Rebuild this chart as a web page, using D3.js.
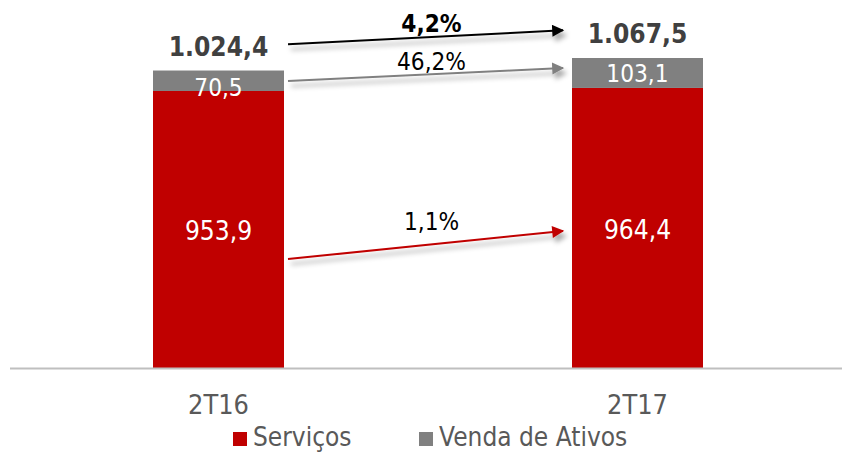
<!DOCTYPE html>
<html>
<head>
<meta charset="utf-8">
<script src="https://cdn.jsdelivr.net/npm/d3@7"></script>
<style>
  html, body { margin: 0; padding: 0; background: #fff; }
  svg { display: block; font-family: "DejaVu Sans", Verdana, sans-serif; }
</style>
</head>
<body>
<div id="chart"></div>
<script>
const categories = ["2T16", "2T17"];
const servicos = [953.9, 964.4];
const vendaAtivos = [70.5, 103.1];
const servicosLabels = ["953,9", "964,4"];
const vendaLabels = ["70,5", "103,1"];
const totalLabels = ["1.024,4", "1.067,5"];
const seriesNames = ["Serviços", "Venda de Ativos"];

// growth arrows: anchor heights in data units at each end
const arrowLabels = ["4,2%", "46,2%", "1,1%"];
const arrowStart = [1115, 988, 375];
const arrowEnd = [1163, 1033, 472];

const width = 842, height = 452;
const baseY = 368;
const barW = 131;
const sx = 0.87; // narrow the font a bit

const colors = { red: "#C00000", gray: "#808080" };

const svg = d3.select("#chart").append("svg")
    .attr("width", width)
    .attr("height", height);

const defs = svg.append("defs");
const f = defs.append("filter").attr("id", "shadow")
    .attr("x", "-10%").attr("y", "-100%").attr("width", "120%").attr("height", "300%");
f.append("feDropShadow")
    .attr("dx", 3).attr("dy", 5).attr("stdDeviation", 2.5)
    .attr("flood-color", "#000").attr("flood-opacity", 0.35);

[["black", "#000"], ["gray", "#808080"], ["red", "#C00000"]].forEach(([id, c]) => {
  defs.append("marker")
      .attr("id", "head-" + id)
      .attr("viewBox", "0 0 10 10")
      .attr("refX", 9).attr("refY", 5)
      .attr("markerWidth", 7.5).attr("markerHeight", 6)
      .attr("markerUnits", "strokeWidth")
      .attr("orient", "auto")
    .append("path")
      .attr("d", "M0,0 L10,5 L0,10 Z")
      .attr("fill", c);
});

const x = d3.scalePoint()
    .domain(categories)
    .range([218.5, 637.5]);

const y = d3.scaleLinear()
    .domain([0, 1000])
    .range([baseY, baseY - 290.4]);

const rows = categories.map((c, i) => ({
  cat: c,
  s: servicos[i],
  v: vendaAtivos[i],
  total: servicos[i] + vendaAtivos[i],
  sLabel: servicosLabels[i],
  vLabel: vendaLabels[i],
  tLabel: totalLabels[i]
}));

function label(g, px, py, txt, size, fill, weight, scale) {
  g.append("text")
      .attr("transform", `translate(${px},${py}) scale(${scale || sx},1)`)
      .attr("text-anchor", "middle")
      .attr("font-size", size)
      .attr("font-weight", weight || "normal")
      .attr("fill", fill)
      .text(txt);
}

// bars
const bars = svg.append("g");
bars.selectAll(".serv").data(rows).join("rect")
    .attr("x", d => x(d.cat) - barW / 2)
    .attr("y", d => y(d.s))
    .attr("width", barW)
    .attr("height", d => y(0) - y(d.s))
    .attr("fill", colors.red);

bars.selectAll(".venda").data(rows).join("rect")
    .attr("x", d => x(d.cat) - barW / 2)
    .attr("y", d => y(d.total))
    .attr("width", barW)
    .attr("height", d => y(d.s) - y(d.total))
    .attr("fill", colors.gray);

// axis line
svg.append("line")
    .attr("x1", 10).attr("x2", width)
    .attr("y1", baseY + 0.5).attr("y2", baseY + 0.5)
    .attr("stroke", "#BFBFBF")
    .attr("stroke-width", 2);

// labels
const lab = svg.append("g");
rows.forEach((d, i) => {
  label(lab, x(d.cat), (y(0) + y(d.s)) / 2 + 11, d.sLabel, 27, "#fff");
  // the small first segment label sits a little low in the original
  label(lab, x(d.cat), (y(d.s) + y(d.total)) / 2 + (i === 0 ? 15 : 9), d.vLabel, 25, "#fff");
  label(lab, x(d.cat), y(d.total) - 15, d.tLabel, 27, "#404040", "bold");
  label(lab, x(d.cat), 414, d.cat, 26, "#595959", "normal", 0.93);
});

// growth arrows
const arrowColors = ["black", "gray", "red"];
const arrowStroke = ["#000", "#808080", "#C00000"];
const labelDy = [-5, -5, -15];
const ag = svg.append("g");
arrowLabels.forEach((t, i) => {
  const x0 = x(categories[0]) + barW / 2 + 4;
  const x1 = x(categories[1]) - barW / 2 - 9;
  const y0 = y(arrowStart[i]);
  const y1 = y(arrowEnd[i]);
  ag.append("line")
      .attr("x1", x0).attr("y1", y0)
      .attr("x2", x1).attr("y2", y1)
      .attr("stroke", arrowStroke[i])
      .attr("stroke-width", 2)
      .attr("marker-end", `url(#head-${arrowColors[i]})`)
      .attr("filter", "url(#shadow)");
  label(ag, (x0 + x1) / 2 + 6, (y0 + y1) / 2 + labelDy[i], t, 25, "#000", i === 0 ? "bold" : "normal");
});

// legend
const leg = svg.append("g");
const legItems = [
  { name: seriesNames[0], color: colors.red, x: 233 },
  { name: seriesNames[1], color: colors.gray, x: 419 }
];
legItems.forEach(d => {
  leg.append("rect")
      .attr("x", d.x).attr("y", 432)
      .attr("width", 14).attr("height", 14)
      .attr("fill", d.color);
  leg.append("text")
      .attr("transform", `translate(${d.x + 20},446) scale(0.9,1)`)
      .attr("font-size", 26)
      .attr("fill", "#595959")
      .text(d.name);
});
</script>
</body>
</html>
